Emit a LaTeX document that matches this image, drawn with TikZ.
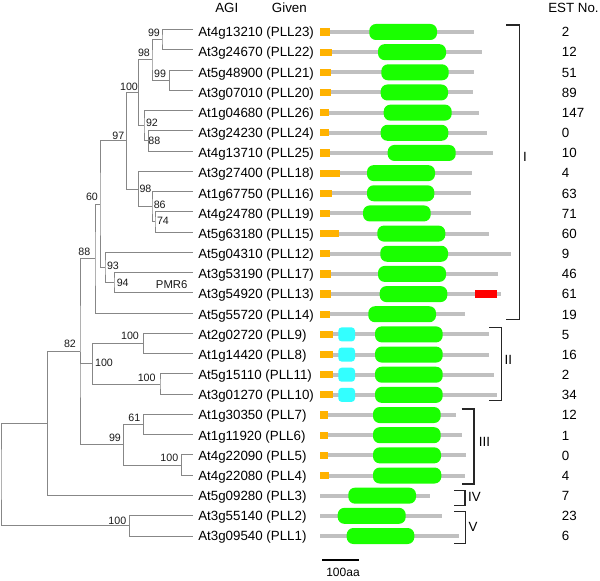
\documentclass[tikz,border=0pt]{standalone}
\usepackage{fontspec}
\setmainfont{Liberation Sans}
\definecolor{treegray}{RGB}{135,135,135}
\definecolor{bargray}{RGB}{192,192,192}
\definecolor{dgreen}{RGB}{26,255,0}
\definecolor{dorange}{RGB}{255,178,0}
\definecolor{dcyan}{RGB}{51,255,255}
\definecolor{dred}{RGB}{255,0,0}
\begin{document}
\begin{tikzpicture}[x=0.75pt,y=-0.75pt,
  branch/.style={draw=treegray, line width=0.75pt},
  bs/.style={font=\fontsize{8}{9}\selectfont, inner sep=0pt, text=black!90},
  leaf/.style={anchor=base west, inner sep=0pt, font=\fontsize{10}{12}\selectfont},
  head/.style={anchor=base west, inner sep=0pt, font=\fontsize{10}{12}\selectfont},
  grp/.style={inner sep=0pt, font=\fontsize{10}{12}\selectfont},
  brk/.style={draw=black!85, line width=0.9pt},
  gbar/.style={draw=bargray, line width=3pt},
  gdom/.style={fill=dgreen, rounded corners=5pt},
  odom/.style={fill=dorange},
  cdom/.style={fill=dcyan, rounded corners=2.5pt},
  rdom/.style={fill=dred}]
\useasboundingbox (0,0) rectangle (600,581);

% headers
\node[head] (hagi) at (215,12.1) {AGI};
\node[head] (hgiven) at (271.7,12.1) {Given};
\node[head] (hest) at (548,12.1) {EST No.};

% leaves, labels and EST numbers
\foreach \i/\lab/\est in {
 1/At4g13210 (PLL23)/2, 2/At3g24670 (PLL22)/12, 3/At5g48900 (PLL21)/51,
 4/At3g07010 (PLL20)/89, 5/At1g04680 (PLL26)/147, 6/At3g24230 (PLL24)/0,
 7/At4g13710 (PLL25)/10, 8/At3g27400 (PLL18)/4, 9/At1g67750 (PLL16)/63,
 10/At4g24780 (PLL19)/71, 11/At5g63180 (PLL15)/60, 12/At5g04310 (PLL12)/9,
 13/At3g53190 (PLL17)/46, 14/At3g54920 (PLL13)/61, 15/At5g55720 (PLL14)/19,
 16/At2g02720 (PLL9)/5, 17/At1g14420 (PLL8)/16, 18/At5g15110 (PLL11)/2,
 19/At3g01270 (PLL10)/34, 20/At1g30350 (PLL7)/12, 21/At1g11920 (PLL6)/1,
 22/At4g22090 (PLL5)/0, 23/At4g22080 (PLL4)/4, 24/At5g09280 (PLL3)/7,
 25/At3g55140 (PLL2)/23, 26/At3g09540 (PLL1)/6}{
  \pgfmathsetmacro{\yb}{29.5+20.26*(\i-1)}
  \pgfmathsetmacro{\yt}{32+20.16*(\i-1)+4.8}
  \coordinate (l\i) at (193,\yb);
  \node[leaf] (t\i) at (198,\yt) {\lab};
  \node[leaf] (e\i) at (561.7,\yt) {\est};
}

% internal nodes
\coordinate (nA) at (162,39.63);
\coordinate (nC) at (169.3,80.15);
\coordinate (nB) at (152,59.89);
\coordinate (nF) at (148.3,140.93);
\coordinate (nE) at (144,125.74);
\coordinate (nD) at (138.7,92.82);
\coordinate (nJ) at (155,221.97);
\coordinate (nI) at (152,206.78);
\coordinate (nH) at (138.3,189.05);
\coordinate (nG) at (126.7,140.94);
\coordinate (nM) at (114,282.75);
\coordinate (nL) at (105,267.56);
\coordinate (nK) at (100,204.25);
\coordinate (nN) at (95,258.7);
\coordinate (nR) at (143.3,343.53);
\coordinate (nS) at (160,384.05);
\coordinate (nT) at (92.7,363.79);
\coordinate (nU) at (143.3,424.57);
\coordinate (nV) at (181.7,465.09);
\coordinate (nW) at (123.3,444.83);
\coordinate (nP) at (80,351.77);
\coordinate (nX) at (47.7,423.6);
\coordinate (nY) at (129.3,525.87);
\coordinate (nZ) at (1,474.7);

% branches
\draw[branch] (l1) -| (nA) |- (l2);
\draw[branch] (l3) -| (nC) |- (l4);
\draw[branch] (nA) -| (nB) |- (nC);
\draw[branch] (l6) -| (nF) |- (l7);
\draw[branch] (l5) -| (nE) |- (nF);
\draw[branch] (nB) -| (nD) |- (nE);
\draw[branch] (l10) -| (nJ) |- (l11);
\draw[branch] (l9) -| (nI) |- (nJ);
\draw[branch] (l8) -| (nH) |- (nI);
\draw[branch] (nD) -| (nG) |- (nH);
\draw[branch] (l13) -| (nM) |- (l14);
\draw[branch] (l12) -| (nL) |- (nM);
\draw[branch] (nG) -| (nK) |- (nL);
\draw[branch] (nK) -| (nN) |- (l15);
\draw[branch] (l16) -| (nR) |- (l17);
\draw[branch] (l18) -| (nS) |- (l19);
\draw[branch] (nR) -| (nT) |- (nS);
\draw[branch] (l20) -| (nU) |- (l21);
\draw[branch] (l22) -| (nV) |- (l23);
\draw[branch] (nU) -| (nW) |- (nV);
\draw[branch] (nN) -| (nP) |- (nW);
\draw[branch] (nT) -| (nP);
\draw[branch] (nP) -| (nX) |- (l24);
\draw[branch] (l25) -| (nY) |- (l26);
\draw[branch] (nX) -| (nZ) |- (nY);

% bootstrap values
\node[bs] (bA) at (154,33.3) {99};
\node[bs] (bB) at (144,53.3) {98};
\node[bs] (bC) at (160,74) {99};
\node[bs] (bD) at (129,87.3) {100};
\node[bs] (bE) at (152,123.3) {92};
\node[bs] (bF) at (154.3,141.3) {88};
\node[bs] (bG) at (118.3,135.7) {97};
\node[bs] (bH) at (145.5,189) {98};
\node[bs] (bI) at (159.7,205.3) {86};
\node[bs] (bJ) at (163,220.7) {74};
\node[bs] (bK) at (92,197) {60};
\node[bs] (bL) at (113,266) {93};
\node[bs] (bM) at (122.7,283.3) {94};
\node[bs] (bN) at (84.3,252.3) {88};
\node[bs] (bP) at (70,344) {82};
\node[bs] (bR) at (130,336) {100};
\node[bs] (bS) at (146.7,378.3) {100};
\node[bs] (bT) at (104,362.7) {100};
\node[bs] (bU) at (134.3,418.3) {61};
\node[bs] (bV) at (169.3,458.3) {100};
\node[bs] (bW) at (115,438.3) {99};
\node[bs] (bY) at (117.3,520.7) {100};
\node[bs, font=\fontsize{8.5}{10}\selectfont] (pmr) at (171.7,285) {PMR6};

% domain diagrams: gray bar and green domain
\foreach \i/\g/\ga/\gb in {
 1/474.3/369.3/437, 2/482/378/446, 3/474.3/381.3/448.7, 4/473.3/380.7/448,
 5/479.3/383.7/451.7, 6/486.7/380.7/448.3, 7/493/387.7/455.7, 8/472/367/435,
 9/470.7/367/434.3, 10/470.7/363/430.7, 11/489/377.3/445.3, 12/511/380.3/448,
 13/498/378/446, 14/500.7/379.7/447.3, 15/465/368.3/436, 16/489/375/442.7,
 17/489.3/375/442.7, 18/493.7/375/442.7, 19/496.7/375/442.7, 20/455.7/373/440.7,
 21/462/373/440.7, 22/465.7/373/441, 23/465.3/373/441.3, 24/429.7/348.3/416,
 25/442.3/337.7/405.7, 26/459.3/346.7/414.3}{
  \pgfmathsetmacro{\yd}{32+20.16*(\i-1)}
  \draw[gbar] (320,\yd) -- (\g,\yd);
  \path[gdom] (\ga,\yd-8) rectangle (\gb,\yd+8);
}
% orange signal peptides
\foreach \i/\o in {1/330, 2/331.7, 3/330.7, 4/330.7, 5/329, 6/329, 7/330,
 8/340, 9/331.7, 10/330, 11/339.3, 12/330, 13/330.7, 14/330.7, 15/330,
 16/332.7, 17/332.7, 18/332.7, 19/332.7, 20/328.3, 21/328.3, 22/328.3, 23/329}{
  \pgfmathsetmacro{\yd}{32+20.16*(\i-1)}
  \path[odom] (320,\yd-3.6) rectangle (\o,\yd+3.6);
}
% cyan domains
\foreach \i in {16,17,18,19}{
  \pgfmathsetmacro{\yd}{32+20.16*(\i-1)}
  \path[cdom] (338.3,\yd-7) rectangle (355,\yd+7);
}
% red domain
\path[rdom] (475,32+20.16*13-3.6) rectangle (497,32+20.16*13+3.6);

% group brackets
\draw[brk] (506,25) -- (519.3,25) -- (519.3,319.3) -- (506,319.3);
\draw[brk] (489.3,327.7) -- (501.7,327.7) -- (501.7,400.7) -- (489.3,400.7);
\draw[brk] (461.7,409) -- (474,409) -- (474,484) -- (461.7,484);
\draw[brk] (454,490.7) -- (465,490.7) -- (465,505.7) -- (454,505.7);
\draw[brk] (454,511.7) -- (465.7,511.7) -- (465.7,543.3) -- (454,543.3);
\node[grp] (gI) at (525,156.7) {I};
\node[grp] (gII) at (508.3,360) {II};
\node[grp] (gIII) at (484.5,441.7) {III};
\node[grp] (gIV) at (474.5,497.3) {IV};
\node[grp] (gV) at (473,526.7) {V};

% scale bar
\draw[line width=1.2pt] (322.3,560) -- (359,560);
\node[inner sep=0pt, font=\fontsize{9}{11}\selectfont] (scl) at (343,572.7) {100aa};
\end{tikzpicture}
\end{document}
